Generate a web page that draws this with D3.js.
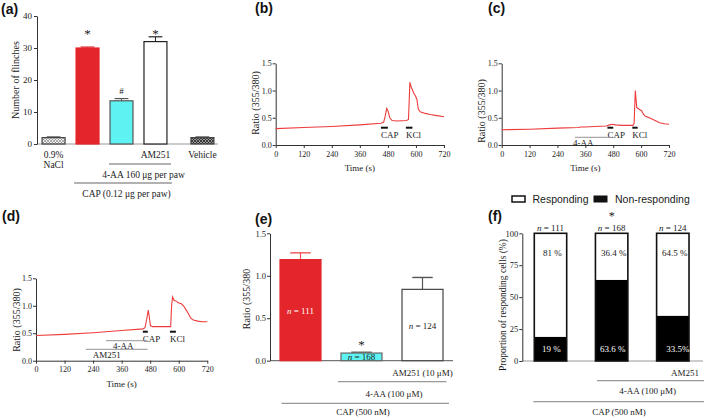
<!DOCTYPE html>
<html><head><meta charset="utf-8">
<script src="https://cdn.jsdelivr.net/npm/d3@7"></script>
<style>body{margin:0;background:#fff}svg{display:block}text{font-family:"Liberation Serif","Times New Roman",serif;fill:#1a1a1a}</style>
</head><body><svg id="c" width="709" height="418"></svg>
<script>
// ---------- DATA ----------
// Panel (a)
const aCategories = ["0.9% NaCl", "CAP", "4-AA", "AM251", "Vehicle"];
const aFlinches = [2, 30, 13.5, 32, 2];
const aErrors = [0.2, 0.3, 0.7, 1.5, 0.2];
const aMarks = ["", "*", "#", "*", ""];
const aTicks = [0, 10, 20, 30, 40];
const aBarLabels = [["0.9%", "NaCl"], [], [], ["AM251"], ["Vehicle"]];

// Time traces (b), (c), (d)
const timeTicks = [0, 120, 240, 360, 480, 600, 720];
const ratioTicks = [0, 0.5, 1.0, 1.5];
const bTime  = [0, 120, 240, 360, 450, 462, 468, 475, 481, 488, 498, 520, 560, 568, 571, 574, 580, 586, 592, 598, 604, 610, 618, 640, 660, 690, 720];
const bRatio = [0.30, 0.32, 0.34, 0.37, 0.40, 0.42, 0.52, 0.67, 0.62, 0.50, 0.45, 0.44, 0.45, 0.47, 0.80, 1.15, 1.06, 1.00, 0.94, 0.90, 0.84, 0.66, 0.61, 0.58, 0.56, 0.54, 0.52];
const cTime  = [0, 120, 240, 330, 340, 360, 400, 450, 458, 465, 475, 490, 520, 565, 570, 575, 578, 581, 590, 602, 608, 617, 640, 660, 680, 700, 720];
const cRatio = [0.28, 0.29, 0.31, 0.32, 0.33, 0.33, 0.34, 0.35, 0.36, 0.37, 0.38, 0.37, 0.36, 0.36, 0.40, 1.00, 0.85, 0.69, 0.66, 0.63, 0.58, 0.53, 0.49, 0.45, 0.41, 0.39, 0.38];
const dTime  = [0, 120, 240, 360, 450, 458, 465, 472, 476, 481, 490, 560, 566, 570, 574, 580, 590, 600, 610, 620, 630, 640, 650, 661, 680, 700, 720];
const dRatio = [0.46, 0.48, 0.51, 0.55, 0.58, 0.60, 0.75, 0.92, 0.80, 0.64, 0.62, 0.62, 0.62, 1.00, 1.16, 1.10, 1.08, 1.05, 1.04, 1.00, 0.93, 0.86, 0.78, 0.74, 0.72, 0.71, 0.71];
const bStimuli = [{label: "CAP", start: 450, end: 480}, {label: "KCl", start: 557, end: 585}];
const cStimuli = [{label: "CAP", start: 455, end: 480}, {label: "KCl", start: 562, end: 585}];
const cTreatments = [{label: "4-AA", start: 315, end: 473}];
const dStimuli = [{label: "CAP", start: 449, end: 470}, {label: "KCl", start: 563, end: 588}];
const dTreatments = [{label: "4-AA", start: 294, end: 467}, {label: "AM251", start: 209, end: 469}];

// Panel (e)
const eGroups = ["CAP", "4-AA", "AM251"];
const eRatio = [1.19, 0.09, 0.84];
const eErrors = [0.08, 0.01, 0.14];
const eN = [111, 168, 124];
const eMarks = ["", "*", ""];

// Panel (f)
const fGroups = ["CAP", "4-AA", "AM251"];
const fResponding = [81, 36.4, 64.5];
const fNonResponding = [19, 63.6, 35.5];
const fRespLabels = ["81 %", "36.4 %", "64.5 %"];
const fNonLabels = ["19 %", "63.6 %", "33.5%"];
const fN = [111, 168, 124];
const fTicks = [0, 25, 50, 75, 100];

// ---------- DRAW ----------
const svg = d3.select("#c");
svg.append("rect").attr("width", 709).attr("height", 418).attr("fill", "#fff");
const defs = svg.append("defs");
function hatch(id, color, bg, sw) {
  const p = defs.append("pattern").attr("id", id).attr("patternUnits", "userSpaceOnUse").attr("width", 3).attr("height", 3);
  p.append("rect").attr("width", 3).attr("height", 3).attr("fill", bg);
  p.append("path").attr("d", "M0,0L3,3M3,0L0,3").attr("stroke", color).attr("stroke-width", sw);
}
hatch("hl", "#777", "#f2f2f2", 0.6);
hatch("hd", "#222", "#999", 0.8);

const RED = "#e3262b", CYAN = "#5ef3f2";
const SERIF = "Liberation Serif, Times New Roman, serif";
const SANS = "Liberation Sans, Arial, sans-serif";

function txt(t, x, y, size, anchor, opts = {}) {
  const e = svg.append("text").attr("x", x).attr("y", y).text(t)
    .style("font-size", size + "px").attr("text-anchor", anchor || "middle")
    .style("font-family", opts.family || SERIF);
  if (opts.weight) e.style("font-weight", opts.weight);
  if (opts.fill) e.style("fill", opts.fill);
  if (opts.rotate) e.attr("transform", `rotate(-90,${x},${y})`);
  return e;
}
function nLabel(n, x, y, size, fill) {
  const e = svg.append("text").attr("x", x).attr("y", y).attr("text-anchor", "middle")
    .style("font-size", size + "px").style("font-family", SERIF).style("fill", fill || "#1a1a1a");
  e.append("tspan").style("font-style", "italic").text("n");
  e.append("tspan").text(" = " + n);
  return e;
}
function styleAxis(g, fs) {
  g.select(".domain").attr("stroke", "#333").attr("stroke-width", 1);
  g.selectAll(".tick line").attr("stroke", "#333");
  g.selectAll(".tick text").style("font-family", SERIF).style("font-size", fs + "px").style("fill", "#222");
}
function panelLabel(t, x, y) { txt(t, x, y, 14, "start", {family: SANS, weight: "bold", fill: "#111"}); }
function hline(x1, x2, y, color, w) {
  svg.append("line").attr("x1", x1).attr("x2", x2).attr("y1", y).attr("y2", y).attr("stroke", color).attr("stroke-width", w);
}

// ===== Panel (a) =====
panelLabel("(a)", 1, 14);
const ay = d3.scaleLinear().domain([0, 40]).range([144, 16]);
const ax = d3.scaleBand().domain(aCategories).range([37, 206]).paddingInner(0.324).paddingOuter(0.15);
const aX = c => ax(c) + (c === "Vehicle" ? 13 : 0);
hline(37, 218, ay(0), "#999", 1);
styleAxis(svg.append("g").attr("transform", "translate(37,0)")
  .call(d3.axisLeft(ay).tickValues(aTicks).tickSize(3).tickSizeOuter(0).tickPadding(2)), 9);
const aFill = ["url(#hl)", RED, CYAN, "#fff", "url(#hd)"];
const aStroke = ["#444", RED, "#555", "#222", "#444"];
aCategories.forEach((c, i) => {
  const x = aX(c), w = ax.bandwidth(), cx = x + w / 2;
  const top = ay(aFlinches[i] + aErrors[i]);
  svg.append("line").attr("x1", cx).attr("x2", cx).attr("y1", ay(aFlinches[i])).attr("y2", top).attr("stroke", aStroke[i]);
  svg.append("line").attr("x1", cx - w * 0.3).attr("x2", cx + w * 0.3).attr("y1", top).attr("y2", top).attr("stroke", aStroke[i]).attr("stroke-width", 1.2);
  svg.append("rect").attr("x", x).attr("y", ay(aFlinches[i])).attr("width", w).attr("height", ay(0) - ay(aFlinches[i]))
    .attr("fill", aFill[i]).attr("stroke", aStroke[i]).attr("stroke-width", 1.2);
  if (aMarks[i] === "*") txt("*", cx, ay(Math.max(aFlinches[i] + aErrors[i], 33.5)) + 1, 13);
  if (aMarks[i] === "#") txt("#", cx, top - 5, 9);
  aBarLabels[i].forEach((l, k) => txt(l, cx, 158 + k * 10, 9.5));
});
hline(aX("4-AA") - 1, aX("AM251") + ax.bandwidth() + 4, 164, "#999", 1.3);
txt("4-AA 160 μg per paw", (aX("4-AA") + aX("AM251") + ax.bandwidth()) / 2 + 5, 178, 9.5);
hline(aX("CAP") - 2, aX("AM251") + ax.bandwidth() + 5, 183, "#999", 1.3);
txt("CAP (0.12 μg per paw)", (aX("CAP") + aX("AM251") + ax.bandwidth()) / 2 + 5, 197, 9.5);
txt("Number of flinches", 18.5, 80, 10, "middle", {rotate: true});

// ===== Trace panels =====
function tracePanel(cfg) {
  const x = d3.scaleLinear().domain([0, 720]).range([cfg.x0, cfg.x1]);
  const y = d3.scaleLinear().domain([0, 1.5]).range([cfg.y0, cfg.y1]);
  styleAxis(svg.append("g").attr("transform", `translate(0,${cfg.y0})`)
    .call(d3.axisBottom(x).tickValues(timeTicks).tickSize(3).tickSizeOuter(0).tickPadding(3)), 8);
  styleAxis(svg.append("g").attr("transform", `translate(${cfg.x0},0)`)
    .call(d3.axisLeft(y).tickValues(ratioTicks).tickFormat(d3.format(".1f")).tickSize(3).tickSizeOuter(0).tickPadding(1)), 8);
  const pts = cfg.time.map((t, i) => [t, cfg.ratio[i]]);
  svg.append("path").attr("d", d3.line().x(d => x(d[0])).y(d => y(d[1]))(pts))
    .attr("fill", "none").attr("stroke", "#ee3b3b").attr("stroke-width", 1.1);
  cfg.stim.forEach(s => {
    hline(x(s.start), x(s.end), cfg.y0 - cfg.stimOff, "#111", 2);
    txt(s.label, x(s.start), cfg.y0 - cfg.stimOff + 10.5, 9, "start");
  });
  (cfg.treat || []).forEach((s, k) => {
    const ly = cfg.y0 - cfg.treatOff[k];
    hline(x(s.start), x(s.end), ly, "#888", 0.9);
    txt(s.label, x(s.start) + cfg.treatLabelDx[k], ly + 8.5, 9, "start");
  });
  txt("Time (s)", (cfg.x0 + cfg.x1) / 2, cfg.y0 + 26, 9);
  txt("Ratio (355/380)", cfg.x0 - 16.5, cfg.ylabelY, 10, "middle", {rotate: true});
}
panelLabel("(b)", 255, 13);
tracePanel({x0: 275.7, x1: 444, y0: 145, y1: 63.3, time: bTime, ratio: bRatio, stim: bStimuli, stimOff: 17.3, ylabelY: 103});
panelLabel("(c)", 488, 13);
tracePanel({x0: 501.7, x1: 669, y0: 145, y1: 63.3, time: cTime, ratio: cRatio, stim: cStimuli, stimOff: 17.3,
  treat: cTreatments, treatOff: [7.7], treatLabelDx: [-2], ylabelY: 111});
panelLabel("(d)", 2, 221);
tracePanel({x0: 36, x1: 207.3, y0: 360.7, y1: 278.3, time: dTime, ratio: dRatio, stim: dStimuli, stimOff: 29,
  treat: dTreatments, treatOff: [20, 11.4], treatLabelDx: [7, 7], ylabelY: 320});

// ===== Panel (e) =====
panelLabel("(e)", 255, 224);
const ey = d3.scaleLinear().domain([0, 1.5]).range([360.7, 233.3]);
const ex = d3.scaleBand().domain(eGroups).range([270, 453]).paddingInner(0.328).paddingOuter(0.164);
hline(270, 453, ey(0), "#555", 1);
styleAxis(svg.append("g").attr("transform", "translate(270,0)")
  .call(d3.axisLeft(ey).tickValues(ratioTicks).tickFormat(d3.format(".1f")).tickSize(3).tickSizeOuter(0).tickPadding(1)), 8.5);
const eFill = [RED, CYAN, "#fff"], eStroke = [RED, "#666", "#444"], eErrCol = ["#ee5555", "#666", "#555"];
eGroups.forEach((g, i) => {
  const x = ex(g), w = ex.bandwidth(), cx = x + w / 2, top = ey(eRatio[i] + eErrors[i]);
  svg.append("line").attr("x1", cx).attr("x2", cx).attr("y1", ey(eRatio[i])).attr("y2", top).attr("stroke", eErrCol[i]).attr("stroke-width", 1.2);
  svg.append("line").attr("x1", cx - w * 0.25).attr("x2", cx + w * 0.25).attr("y1", top).attr("y2", top).attr("stroke", eErrCol[i]).attr("stroke-width", 1.4);
  svg.append("rect").attr("x", x).attr("y", ey(eRatio[i])).attr("width", w).attr("height", ey(0) - ey(eRatio[i]))
    .attr("fill", eFill[i]).attr("stroke", eStroke[i]).attr("stroke-width", 1.2);
  nLabel(eN[i], cx, ey(eRatio[i] / 2) + 3.5, 9, i === 0 ? "#fff" : "#1a1a1a");
  if (eMarks[i]) txt(eMarks[i], cx, ey(eRatio[i] + eErrors[i]) - 3, 13);
});
txt("AM251 (10 μM)", ex("AM251") + ex.bandwidth() / 2, 376, 9);
hline(ex("4-AA") - 3, ex("AM251") + ex.bandwidth() + 3.5, 381.7, "#999", 1.3);
txt("4-AA (100 μM)", 394, 397, 9);
hline(ex("CAP") + 1.5, ex("AM251") + ex.bandwidth() + 6, 403.3, "#999", 1.3);
txt("CAP (500 nM)", 363, 415, 9);
txt("Ratio (355/380", 249.5, 299, 10, "middle", {rotate: true});

// ===== Panel (f) =====
// legend
svg.append("rect").attr("x", 512).attr("y", 196).attr("width", 13).attr("height", 6).attr("fill", "#fff").attr("stroke", "#111").attr("stroke-width", 1.5);
txt("Responding", 532.5, 203, 10.5, "start", {family: SANS});
svg.append("rect").attr("x", 593.5).attr("y", 195.5).attr("width", 14).attr("height", 7).attr("fill", "#111");
txt("Non-responding", 615, 203, 10.5, "start", {family: SANS});
panelLabel("(f)", 488, 221);
const fy = d3.scaleLinear().domain([0, 100]).range([361, 233.3]);
const fx = d3.scaleBand().domain(fGroups).range([522.3, 701]).paddingInner(0.47).paddingOuter(0.196);
hline(522.3, 703, fy(0), "#999", 1);
styleAxis(svg.append("g").attr("transform", "translate(522.3,0)")
  .call(d3.axisLeft(fy).tickValues(fTicks).tickSize(3).tickSizeOuter(0).tickPadding(1)), 8.5);
fGroups.forEach((g, i) => {
  const x = fx(g), w = fx.bandwidth(), cx = x + w / 2;
  svg.append("rect").attr("x", x).attr("y", fy(fNonResponding[i])).attr("width", w).attr("height", fy(0) - fy(fNonResponding[i])).attr("fill", "#000");
  svg.append("rect").attr("x", x).attr("y", fy(fNonResponding[i] + fResponding[i])).attr("width", w)
    .attr("height", fy(fNonResponding[i]) - fy(fNonResponding[i] + fResponding[i])).attr("fill", "#fff");
  svg.append("rect").attr("x", x).attr("y", fy(100)).attr("width", w).attr("height", fy(0) - fy(100))
    .attr("fill", "none").attr("stroke", "#111").attr("stroke-width", 1.6);
  txt(fRespLabels[i], cx + 2, fy(100) + 23, 9);
  txt(fNonLabels[i], cx + (i === 2 ? 5 : 1), fy(0) - 9, 9, "middle", {fill: "#fff"});
  nLabel(fN[i], cx, 231, 9);
});
txt("*", fx("4-AA") + fx.bandwidth() / 2, 219.5, 12);
txt("AM251", 685, 376, 9);
hline(fx("4-AA") + 1.5, 704, 380.7, "#999", 1.3);
txt("4-AA (100 μM)", 647.7, 394, 9);
hline(fx("CAP") - 1, 704, 401.7, "#999", 1.3);
txt("CAP (500 nM)", 619, 415, 9);
txt("Proportion of responding cells (%)", 505.5, 305, 9.5, "middle", {rotate: true});
</script></body></html>
